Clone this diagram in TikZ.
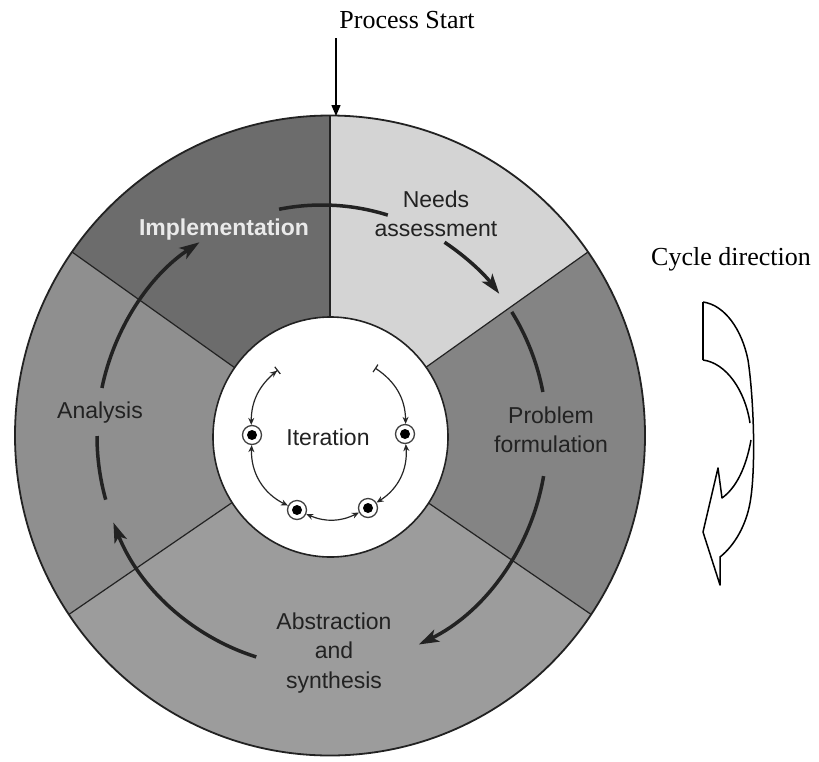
\documentclass[tikz,border=0pt]{standalone}
\usepackage{fontspec}
\setmainfont{Liberation Serif}
\newfontfamily\labfont{Liberation Sans}
\usetikzlibrary{arrows.meta}
\definecolor{cImpl}{HTML}{6C6C6C}
\definecolor{cNeed}{HTML}{D4D4D4}
\definecolor{cProb}{HTML}{848484}
\definecolor{cAbst}{HTML}{9C9C9C}
\definecolor{cAnal}{HTML}{8F8F8F}
\definecolor{ink}{HTML}{222222}
\definecolor{impltext}{HTML}{EAEAEA}
\tikzset{smallhead/.tip={Stealth[length=7pt,width=6pt]}}
\begin{document}
\begin{tikzpicture}[x=1pt,y=-1pt,
  lab/.style={font=\labfont\fontsize{23}{29.5}\selectfont, text=ink, align=center, inner sep=0pt},
  captext/.style={font=\fontsize{26}{30}\selectfont, text=black, inner sep=0pt},
  ringarrow/.style={line width=3.5pt, draw=ink},
  bighead/.style={-{Stealth[length=20pt,width=13pt,inset=5pt]}},
  dot/.style={circle, draw=black!75, line width=1.3pt, fill=white, minimum size=19pt, inner sep=0pt,
    path picture={\fill[black] (path picture bounding box.center) circle (5pt);}},
  iter/.style={line width=1.2pt, draw=black!85},
  sectorline/.style={draw=ink, line width=1.2pt},
  icon/.style={draw=black, line width=1.5pt, line join=round}
]
\useasboundingbox (0,0) rectangle (819,761);
\fill[white] (0,0) rectangle (819,761);
\coordinate (C) at (330,435.5);
% sectors
\fill[cNeed] (C) -- ++(-90:315 and 320) arc[start angle=-90,end angle=-35,x radius=315,y radius=320] -- cycle;
\fill[cProb] (C) -- ++(-35:315 and 320) arc[start angle=-35,end angle=34,x radius=315,y radius=320] -- cycle;
\fill[cAbst] (C) -- ++(34:315 and 320) arc[start angle=34,end angle=146,x radius=315,y radius=320] -- cycle;
\fill[cAnal] (C) -- ++(146:315 and 320) arc[start angle=146,end angle=215,x radius=315,y radius=320] -- cycle;
\fill[cImpl] (C) -- ++(215:315 and 320) arc[start angle=215,end angle=270,x radius=315,y radius=320] -- cycle;
\foreach \a in {-90,-35,34,146,215}{
  \draw[sectorline] (C) -- ++(\a:315 and 320);
}
\fill[white] (330.5,437) ellipse[x radius=117.5, y radius=120];
\draw[draw=ink, line width=1.6pt] (330.5,437) ellipse[x radius=117.5, y radius=120];
\draw[draw=ink, line width=1.8pt] (C) ellipse[x radius=315, y radius=320];

% ring arrows
\coordinate (A) at (322,436);
\draw[ringarrow] (A) ++(-101:225 and 231) arc[start angle=-101,end angle=-73,x radius=225,y radius=231];
\draw[ringarrow,bighead] (A) ++(-57:225 and 231) arc[start angle=-57,end angle=-38,x radius=225,y radius=231];
\draw[ringarrow] (A) ++(-32.5:225 and 231) arc[start angle=-32.5,end angle=-11,x radius=225,y radius=231];
\draw[ringarrow,bighead] (A) ++(10:225 and 231) arc[start angle=10,end angle=64.5,x radius=225,y radius=231];
\draw[ringarrow,bighead] (A) ++(107:225 and 231) arc[start angle=107,end angle=158,x radius=225,y radius=231];
\draw[ringarrow] (A) ++(164:225 and 231) arc[start angle=164,end angle=180,x radius=225,y radius=231];
\draw[ringarrow,bighead] (A) ++(192:225 and 231) arc[start angle=192,end angle=237,x radius=225,y radius=231];

% labels
\node[lab] (needs) at (436,214) {Needs\\assessment};
\node[lab, font=\labfont\bfseries\fontsize{23}{29}\selectfont, text=impltext, anchor=base] (impl) at (224,235) {Implementation};
\node[lab] (prob) at (551,430) {Problem\\formulation};
\node[lab, anchor=base] (anal) at (100,418) {Analysis};
\node[lab] (abst) at (334,653) {Abstraction\\and\\synthesis};
\node[lab, anchor=base] (iterlabel) at (328,445) {Iteration};

% iteration cycle
\node[dot] (dL) at (252,435) {};
\node[dot] (dR) at (405,434) {};
\node[dot] (dBL) at (297,510) {};
\node[dot] (dBR) at (368,508) {};
\coordinate (tL) at (278,370);
\coordinate (tR) at (375,368);
\draw[iter, {Bar[width=9pt]smallhead}-{smallhead}] (tL) to[bend right=26] (dL);
\draw[iter, {smallhead}-{smallhead}] (dL) to[bend right=33] (dBL);
\draw[iter, {smallhead}-{smallhead}] (dBL) to[bend right=25] (dBR);
\draw[iter, {smallhead}-{smallhead}] (dBR) to[bend right=31] (dR);
\draw[iter, {Bar[width=9pt]}-{smallhead}] (tR) to[bend left=28] (dR);

% process start
\node[captext, anchor=base] (ps) at (407,28) {Process Start};
\coordinate (psbase) at (336,38);
\coordinate (pstop) at (336,116);
\draw[line width=1.3pt, -{Triangle[length=11pt,width=9pt]}] (psbase) -- (pstop);

% cycle direction
\node[captext, anchor=base] (cd) at (731,265) {Cycle direction};
\draw[icon] (703,302) -- (703,360);
\draw[icon] (703,302) .. controls (725,305) and (742,330) .. (748,360);
\draw[icon] (703,360) .. controls (726,363) and (745,390) .. (750,423);
\draw[icon] (748,360) .. controls (754,400) and (756,470) .. (750,503);
\draw[icon] (751,440) .. controls (746,468) and (736,488) .. (722,498) -- (718,468) -- (703,532) -- (720,585) -- (720,557)
   .. controls (735,545) and (746,525) .. (750,503);
\end{tikzpicture}
\end{document}
